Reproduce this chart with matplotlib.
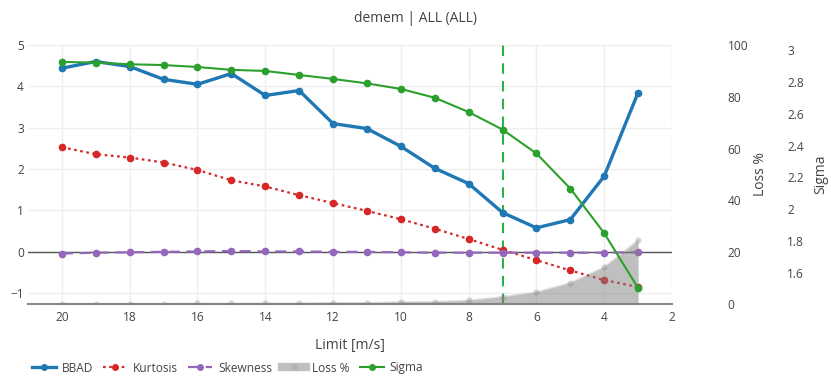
import matplotlib
matplotlib.use("Agg")
import matplotlib.pyplot as plt
from matplotlib.lines import Line2D

plt.rcParams['font.family'] = ['Open Sans', 'DejaVu Sans']

limits = [20, 19, 18, 17, 16, 15, 14, 13, 12, 11, 10, 9, 8, 7, 6, 5, 4, 3]
bbad = [4.44, 4.60, 4.48, 4.17, 4.05, 4.31, 3.78, 3.90, 3.10, 2.98, 2.55, 2.02, 1.65, 0.95, 0.58, 0.78, 1.83, 3.85]
kurtosis = [2.53, 2.36, 2.28, 2.16, 1.98, 1.73, 1.58, 1.37, 1.18, 0.99, 0.79, 0.56, 0.31, 0.05, -0.20, -0.45, -0.68, -0.85]
skewness = [-0.04, -0.02, -0.01, 0.00, 0.01, 0.02, 0.01, 0.01, 0.00, 0.00, -0.01, -0.02, -0.02, -0.02, -0.02, -0.02, -0.02, -0.01]
loss = [0.1, 0.1, 0.1, 0.1, 0.2, 0.2, 0.3, 0.3, 0.5, 0.5, 0.8, 0.9, 1.4, 2.8, 4.6, 8.2, 14.3, 24.7]
sigma = [2.925, 2.92, 2.91, 2.905, 2.893, 2.875, 2.868, 2.843, 2.818, 2.79, 2.755, 2.70, 2.61, 2.50, 2.35, 2.13, 1.85, 1.505]
marker_limit = 7

x_ticks = [20, 18, 16, 14, 12, 10, 8, 6, 4, 2]
left_ticks = [-1, 0, 1, 2, 3, 4, 5]
loss_ticks = [0, 20, 40, 60, 80, 100]
sigma_ticks = [1.6, 1.8, 2.0, 2.2, 2.4, 2.6, 2.8, 3.0]
sigma_labels = ['1.6', '1.8', '2', '2.2', '2.4', '2.6', '2.8', '3']

TXT = '#444444'
W, H = 831, 376
fig = plt.figure(figsize=(W / 100, H / 100), dpi=100)
L, R, T, B = 28, 672, 45, 304
ax = fig.add_axes([L / W, 1 - B / H, (R - L) / W, (B - T) / H])

c_bbad = '#1f77b4'
c_kurt = '#d62728'
c_skew = '#9467bd'
c_sig = '#2ca02c'

ax.set_xlim(21.0, 2.0)
ax.set_ylim(-1.26, 5.0)
ax.set_xticks(x_ticks)
ax.set_yticks(left_ticks)
ax.set_yticklabels(['\u22121', '0', '1', '2', '3', '4', '5'])
ax.grid(True, color='#eeeeee', lw=1)
ax.set_axisbelow(True)
for s in ['top', 'right', 'left']:
    ax.spines[s].set_visible(False)
ax.spines['bottom'].set_color('#888888')
ax.spines['bottom'].set_linewidth(1.5)
ax.tick_params(axis='both', length=0, labelsize=8.6, colors=TXT)
ax.tick_params(axis='x', pad=5)
ax.tick_params(axis='y', pad=3)
ax.axhline(0, color='#555555', lw=1, zorder=1.5)

ax.plot(limits, bbad, color=c_bbad, lw=2.4, marker='o', ms=4.5, zorder=3)
ax.plot(limits, kurtosis, color=c_kurt, lw=1.6, ls=(0, (1.2, 1.6)), marker='o', ms=4.5, zorder=3)
ax.plot(limits, skewness, color=c_skew, lw=1.6, ls=(0, (5, 3)), marker='o', ms=4.5, zorder=3)
ax.axvline(marker_limit, color='#2bb04a', lw=1.5, ls=(0, (5, 3.5)), zorder=2.5)

ax.set_xlabel('Limit [m/s]', fontsize=10, color=TXT, labelpad=10)

ax2 = ax.twinx()
ax2.set_ylim(0, 100)
ax2.set_yticks(loss_ticks)
for s in ax2.spines.values():
    s.set_visible(False)
ax2.tick_params(axis='y', length=0, labelsize=8.6, colors=TXT, pad=40)
ax2.fill_between(limits, 0, loss, color=(0.5, 0.5, 0.5, 0.5), lw=0)
ax2.plot(limits, loss, color=(0.5, 0.5, 0.5, 0.25), lw=1, marker='o', ms=4.5,
         markerfacecolor=(0.5, 0.5, 0.5, 0.3), markeredgecolor=(0.5, 0.5, 0.5, 0.0))

ax3 = ax.twinx()
ax3.set_ylim(1.405, 3.031)
ax3.set_yticks(sigma_ticks)
ax3.set_yticklabels(sigma_labels)
for s in ax3.spines.values():
    s.set_visible(False)
ax3.tick_params(axis='y', length=0, labelsize=8.6, colors=TXT, pad=83)
ax3.plot(limits, sigma, color=c_sig, lw=1.5, marker='o', ms=4.5)

fig.text(760 / W, 1 - 174 / H, 'Loss %', rotation=90, ha='center', va='center', fontsize=10, color=TXT)
fig.text(821 / W, 1 - 174 / H, 'Sigma', rotation=90, ha='center', va='center', fontsize=10, color=TXT)
fig.text(0.5, 1 - 19 / H, 'demem | ALL (ALL)', ha='center', va='center', fontsize=10, color=TXT)

handles = [
    Line2D([], [], color=c_bbad, lw=2.4, marker='o', ms=4),
    Line2D([], [], color=c_kurt, lw=1.6, ls=(0, (1.2, 1.6)), marker='o', ms=4),
    Line2D([], [], color=c_skew, lw=1.6, ls=(0, (5, 3)), marker='o', ms=4),
    Line2D([], [], color=(0.5, 0.5, 0.5, 0.5), lw=6, marker='o', ms=4,
           markerfacecolor=(0.7, 0.7, 0.7), markeredgecolor=(0.7, 0.7, 0.7)),
    Line2D([], [], color=c_sig, lw=1.5, marker='o', ms=4),
]
labels = ['BBAD', 'Kurtosis', 'Skewness', 'Loss %', 'Sigma']
fig.legend(handles, labels, loc='center left', bbox_to_anchor=(32 / W, 1 - 368 / H), ncol=5,
           frameon=False, fontsize=8.6, labelcolor=TXT, handlelength=2.0, handletextpad=0.5,
           columnspacing=0.85, borderaxespad=0, borderpad=0)

fig.savefig('out.png', dpi=100)
